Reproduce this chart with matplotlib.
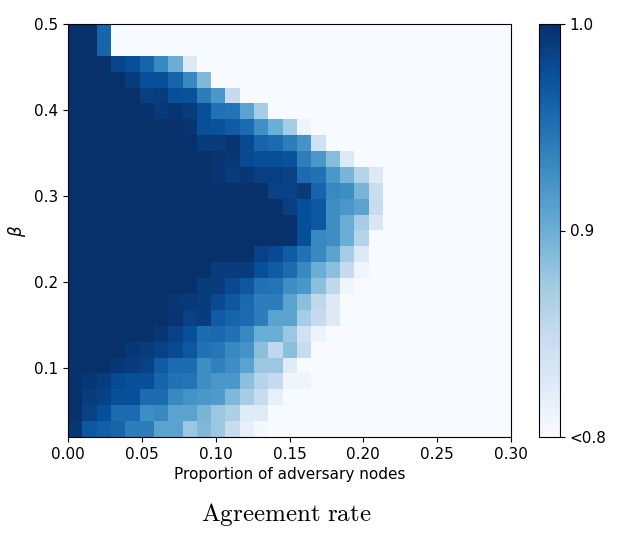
import matplotlib
matplotlib.use("Agg")
import matplotlib.pyplot as plt
import numpy as np

# cells below the colour range ("<0.8")
W = 0.7

x_ticks = [0.00, 0.05, 0.10, 0.15, 0.20, 0.25, 0.30]
beta_ticks = [0.1, 0.2, 0.3, 0.4, 0.5]
cbar_ticks = [0.8, 0.9, 1.0]
cbar_labels = ["<0.8", "0.9", "1.0"]

# agreement rate, rows from beta = 0.5 (top) down to 0.02, 31 columns over 0..0.30
agreement = np.array([
    [1.0, 1.0, 0.96] + [W] * 28,
    [1.0, 1.0, 0.96] + [W] * 28,
    [1.0, 1.0, 1.0, 0.984, 0.976, 0.96, 0.932, 0.9, 0.826] + [W] * 22,
    [1.0, 1.0, 1.0, 1.0, 0.99, 0.976, 0.976, 0.96, 0.932, 0.89] + [W] * 21,
    [1.0] * 5 + [0.988, 0.99, 0.976, 0.974, 0.94, 0.92, 0.85] + [W] * 19,
    [1.0] * 6 + [0.992, 0.996, 0.99, 0.976, 0.95, 0.948, 0.91, 0.87] + [W] * 17,
    [1.0] * 8 + [0.996, 0.976, 0.974, 0.966, 0.954, 0.926, 0.9, 0.87, 0.81] + [W] * 14,
    [1.0] * 9 + [0.99, 0.99, 0.996, 0.98, 0.96, 0.954, 0.94, 0.924, 0.84] + [W] * 13,
    [1.0] * 10 + [0.996, 0.994, 0.98, 0.976, 0.976, 0.974, 0.94, 0.92, 0.886, 0.826] + [W] * 11,
    [1.0] * 10 + [0.996, 0.99, 0.994, 0.988, 0.988, 0.986, 0.954, 0.95, 0.92, 0.894, 0.86, 0.826] + [W] * 9,
    [1.0] * 14 + [0.986, 0.986, 0.992, 0.96, 0.932, 0.928, 0.894, 0.844] + [W] * 9,
    [1.0] * 15 + [0.988, 0.976, 0.97, 0.928, 0.92, 0.91, 0.848] + [W] * 9,
    [1.0] * 16 + [0.976, 0.97, 0.928, 0.9, 0.87, 0.83] + [W] * 9,
    [1.0] * 16 + [0.976, 0.932, 0.928, 0.9, 0.86] + [W] * 10,
    [1.0] * 13 + [0.986, 0.98, 0.966, 0.95, 0.932, 0.91, 0.87, 0.826] + [W] * 10,
    [1.0] * 10 + [0.99, 0.99, 0.99, 0.976, 0.966, 0.954, 0.932, 0.9, 0.884, 0.85, 0.808] + [W] * 10,
    [1.0] * 9 + [0.99, 0.99, 0.98, 0.97, 0.95, 0.948, 0.928, 0.92, 0.884, 0.854, 0.808] + [W] * 11,
    [1.0] * 7 + [0.994, 0.992, 0.99, 0.98, 0.97, 0.956, 0.94, 0.94, 0.91, 0.884, 0.854, 0.826] + [W] * 12,
    [1.0] * 7 + [0.996, 0.986, 0.99, 0.966, 0.96, 0.954, 0.94, 0.91, 0.91, 0.87, 0.85, 0.826] + [W] * 12,
    [1.0] * 6 + [0.994, 0.986, 0.976, 0.954, 0.956, 0.95, 0.932, 0.9, 0.9, 0.876, 0.84, 0.812] + [W] * 13,
    [1.0] * 4 + [0.994, 0.99, 0.986, 0.98, 0.97, 0.95, 0.946, 0.932, 0.924, 0.884, 0.854, 0.884, 0.848] + [W] * 14,
    [1.0] * 3 + [0.994, 0.99, 0.986, 0.966, 0.954, 0.954, 0.928, 0.938, 0.928, 0.91, 0.876, 0.876, 0.824] + [W] * 15,
    [1.0, 0.994, 0.99, 0.98, 0.976, 0.976, 0.96, 0.95, 0.948, 0.928, 0.92, 0.92, 0.884, 0.86, 0.85, 0.808, 0.808] + [W] * 14,
    [1.0, 0.99, 0.986, 0.976, 0.976, 0.954, 0.954, 0.932, 0.924, 0.92, 0.916, 0.89, 0.87, 0.848, 0.816] + [W] * 16,
    [1.0, 0.986, 0.976, 0.954, 0.954, 0.928, 0.932, 0.91, 0.91, 0.894, 0.876, 0.866, 0.824, 0.824] + [W] * 17,
    [0.994, 0.97, 0.964, 0.96, 0.94, 0.94, 0.91, 0.91, 0.876, 0.89, 0.876, 0.848, 0.816, 0.804] + [W] * 17,
])

fs = 11
fig = plt.figure(figsize=(6.17, 5.44), dpi=100)
ax = fig.add_axes([68 / 617, 107 / 544, 443 / 617, 413 / 544])
im = ax.imshow(agreement, cmap="Blues", vmin=0.8, vmax=1.0,
               extent=[0.0, 0.30, 0.02, 0.50], aspect="auto",
               interpolation="nearest")
ax.set_xticks(x_ticks)
ax.set_xticklabels(["%.2f" % t for t in x_ticks], fontsize=fs)
ax.set_yticks(beta_ticks)
ax.set_yticklabels(["%.1f" % t for t in beta_ticks], fontsize=fs)
ax.set_xlabel("Proportion of adversary nodes", fontsize=fs)
ax.set_ylabel(r"$\beta$", fontsize=fs + 1)

cax = fig.add_axes([539 / 617, 107 / 544, 21 / 617, 413 / 544])
cb = fig.colorbar(im, cax=cax, ticks=cbar_ticks)
cb.ax.set_yticklabels(cbar_labels, fontsize=fs)

fig.text(286 / 617, 29 / 544, r"$\mathrm{Agreement\ rate}$", fontsize=18,
         ha="center", va="center", math_fontfamily="cm")

fig.savefig("out.png", dpi=100)
